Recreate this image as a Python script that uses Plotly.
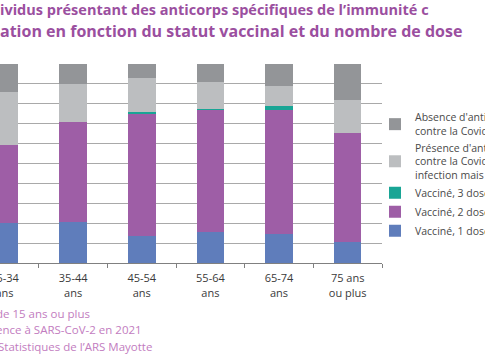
import plotly.graph_objects as go

# ---- data ----
categories = ["25-34<br>ans", "35-44<br>ans", "45-54<br>ans", "55-64<br>ans", "65-74<br>ans", "75 ans<br>ou plus"]
vaccine_1_dose = [20.0, 20.5, 13.5, 15.5, 14.5, 10.5]
vaccine_2_doses = [39.5, 50.5, 61.5, 61.5, 62.5, 55.0]
vaccine_3_doses = [0.0, 0.0, 1.0, 0.3, 2.0, 0.0]
presence_infection = [26.5, 19.0, 17.0, 13.5, 10.0, 16.5]
absence_anticorps = [14.0, 10.0, 7.0, 9.2, 11.0, 18.0]

series_names = [
    "Vacciné, 1 dose",
    "Vacciné, 2 doses",
    "Vacciné, 3 doses",
    "Présence d'anticorps<br>contre la Covid-19 par<br>infection mais non vacciné",
    "Absence d'anticorps<br>contre la Covid-19",
]
series_values = [vaccine_1_dose, vaccine_2_doses, vaccine_3_doses, presence_infection, absence_anticorps]
series_colors = ["#5f7dbb", "#9e5ea6", "#19a595", "#bcbec0", "#939598"]

title_lines = [
    "ividus présentant des anticorps spécifiques de l’immunité c",
    "ation en fonction du statut vaccinal et du nombre de dose",
]
footer_lines = [
    "de 15 ans ou plus",
    "ence à SARS-CoV-2 en 2021",
    "Statistiques de l’ARS Mayotte",
]

W, H = 485, 360
ML, MR, MT, MB = 0, 103, 64, 97
PW = W - ML - MR
PH = H - MT - MB

fig = go.Figure()
for name, vals, col in zip(series_names, series_values, series_colors):
    fig.add_trace(go.Bar(x=categories, y=vals, name=name, marker=dict(color=col, line=dict(width=0))))


def px_x(px):
    return (px - ML) / PW


def px_y(py):
    return (H - MB - py) / PH


annotations = []
title_y = [10, 31]
title_size = [14.5, 16]
for t, y, s in zip(title_lines, title_y, title_size):
    annotations.append(dict(text=t, x=px_x(-2), y=px_y(y), xref="paper", yref="paper",
                            xanchor="left", yanchor="middle", showarrow=False,
                            font=dict(family="Open Sans", size=s, color="#9b4f9f", weight="bold")))
footer_y = [313, 329, 346]
footer_x = [-6, -6, -4]
for t, x, y in zip(footer_lines, footer_x, footer_y):
    annotations.append(dict(text=t, x=px_x(x), y=px_y(y), xref="paper", yref="paper",
                            xanchor="left", yanchor="middle", showarrow=False,
                            font=dict(family="Open Sans", size=11.5, color="#c27cc0")))

fig.update_layout(
    width=W, height=H,
    margin=dict(l=ML, r=MR, t=MT, b=MB, autoexpand=False),
    paper_bgcolor="white", plot_bgcolor="white",
    barmode="stack", bargap=0.6,
    font=dict(family="Open Sans", size=11, color="#404040"),
    xaxis=dict(range=[-0.066, 5.5], tickson="boundaries", ticks="outside", ticklen=4,
               tickcolor="#808080", showline=True, linecolor="#808080", linewidth=1,
               showgrid=False, tickfont=dict(size=11, color="#3a3a3a"), ticklabelstandoff=5,
               fixedrange=True),
    yaxis=dict(range=[0, 100], dtick=10, showticklabels=False, showgrid=True,
               gridcolor="#a9a9a9", gridwidth=1.3, zeroline=False, showline=False, fixedrange=True),
    legend=dict(x=px_x(375), y=px_y(104), xanchor="left", yanchor="top",
                traceorder="reversed", font=dict(size=10.5, color="#4a4a4a"),
                bgcolor="rgba(0,0,0,0)"),
    annotations=annotations,
)

fig.write_html("out.html", config={"displayModeBar": False},
               post_script="document.body.style.margin='0';document.body.style.overflow='hidden';")
